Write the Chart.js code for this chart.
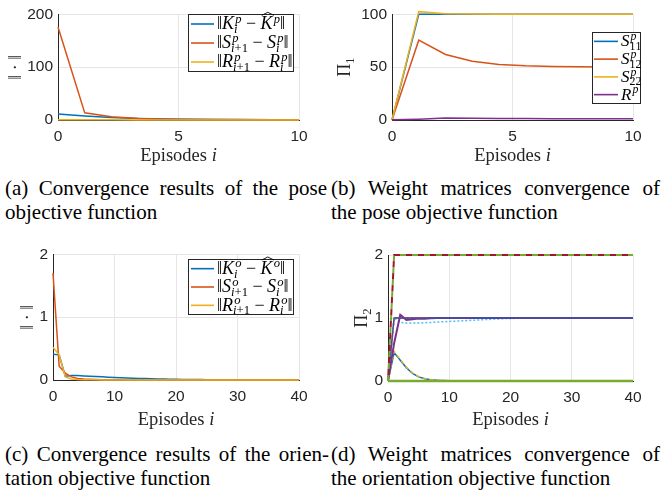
<!DOCTYPE html>
<html>
<head>
<meta charset="utf-8">
<script src="https://cdn.jsdelivr.net/npm/chart.js"></script>
<style>
  body { margin: 0; background: #fff; }
  #page { position: relative; width: 665px; height: 491px; overflow: hidden; }
  canvas { position: absolute; }
  .cap { position: absolute; font: 21px 'Liberation Serif', 'Times New Roman', serif; line-height: 24px; color: #000; }
  .cap .j { text-align: justify; text-align-last: justify; }
</style>
</head>
<body>
<div id="page">
  <canvas id="chartA" width="330" height="170" style="left:0;top:0"></canvas>
  <canvas id="chartB" width="335" height="170" style="left:330px;top:0"></canvas>
  <canvas id="chartC" width="330" height="190" style="left:0;top:240px"></canvas>
  <canvas id="chartD" width="335" height="190" style="left:330px;top:240px"></canvas>

  <div class="cap" style="left:5px;top:176px;width:322px"><div class="j">(a) Convergence results of the pose</div><div>objective function</div></div>
  <div class="cap" style="left:331px;top:176px;width:329px"><div class="j">(b) Weight matrices convergence of</div><div>the pose objective function</div></div>
  <div class="cap" style="left:5px;top:442px;width:324px"><div class="j">(c) Convergence results of the orien-</div><div>tation objective function</div></div>
  <div class="cap" style="left:331px;top:442px;width:329px"><div class="j">(d) Weight matrices convergence of</div><div>the orientation objective function</div></div>
</div>
<script>
// pose (10 episodes, sampled 0..10)
var poseEpisodes = [0, 1.11, 2.22, 3.33, 4.44, 5.56, 6.67, 7.78, 8.89, 10];
var poseErrK = [11.5, 7.5, 4.5, 2.8, 2.0, 1.5, 1.1, 0.9, 0.7, 0.6];
var poseErrS = [176, 13.5, 6.0, 2.8, 1.6, 1.1, 0.8, 0.6, 0.5, 0.4];
var poseErrR = [0.6, 0.4, 0.3, 0.2, 0.2, 0.1, 0.1, 0.1, 0.1, 0.1];

var poseS11 = [0, 100, 100, 100, 100, 100, 100, 100, 100, 100];
var poseS12 = [0, 75.5, 62, 55.5, 52.5, 51.3, 50.7, 50.4, 50.2, 50.1];
var poseS22 = [0, 102.5, 100.6, 100.2, 100.1, 100, 100, 100, 100, 100];
var poseR = [0.3, 0.8, 1.8, 1.6, 1.5, 1.4, 1.3, 1.2, 1.2, 1.1];

// orientation (episodes 0..40)
var oriEpisodes = [0,1,2,3,4,5,6,7,8,9,10,11,12,13,14,15,16,17,18,19,20,21,22,23,24,25,26,27,28,29,30,31,32,33,34,35,36,37,38,39,40];
var oriErrK = [0.41, 0.40, 0.06, 0.07, 0.07, 0.065, 0.06, 0.055, 0.05, 0.045, 0.04, 0.036, 0.032, 0.028, 0.025, 0.022, 0.019, 0.016, 0.014, 0.012, 0.010,
               0.009, 0.008, 0.007, 0.006, 0.005, 0.005, 0.004, 0.004, 0.003, 0.003, 0.003, 0.002, 0.002, 0.002, 0.002, 0.001, 0.001, 0.001, 0.001, 0.001];
var oriErrS = [1.70, 0.22, 0.11, 0.05, 0.025, 0.015, 0.01, 0.006, 0.004, 0.003, 0.002, 0.002, 0.001, 0.001, 0.001, 0.001, 0, 0, 0, 0, 0,
               0, 0, 0, 0, 0, 0, 0, 0, 0, 0, 0, 0, 0, 0, 0, 0, 0, 0, 0, 0];
var oriErrR = [0.52, 0.40, 0.05, 0.015, 0.008, 0.005, 0.003, 0.002, 0.001, 0.001, 0, 0, 0, 0, 0, 0, 0, 0, 0, 0, 0,
               0, 0, 0, 0, 0, 0, 0, 0, 0, 0, 0, 0, 0, 0, 0, 0, 0, 0, 0, 0];

var oriDecayA = [0, 0.45, 0.33, 0.21, 0.12, 0.065, 0.035, 0.02, 0.012, 0.007, 0.004, 0.002, 0.001, 0, 0, 0, 0, 0, 0, 0, 0,
                 0, 0, 0, 0, 0, 0, 0, 0, 0, 0, 0, 0, 0, 0, 0, 0, 0, 0, 0, 0];
var oriDecayB = [0, 0.47, 0.34, 0.22, 0.13, 0.07, 0.04, 0.022, 0.013, 0.008, 0.005, 0.003, 0.002, 0.001, 0, 0, 0, 0, 0, 0, 0,
                 0, 0, 0, 0, 0, 0, 0, 0, 0, 0, 0, 0, 0, 0, 0, 0, 0, 0, 0, 0];
var oriOneA = [0, 1, 1, 1, 1, 1, 1, 1, 1, 1, 1, 1, 1, 1, 1, 1, 1, 1, 1, 1, 1,
               1, 1, 1, 1, 1, 1, 1, 1, 1, 1, 1, 1, 1, 1, 1, 1, 1, 1, 1, 1];
var oriOneB = [0, 1.0, 0.93, 0.92, 0.92, 0.92, 0.925, 0.93, 0.935, 0.94, 0.945, 0.95, 0.955, 0.96, 0.965, 0.97, 0.975, 0.98, 0.985, 0.99, 0.993,
               0.995, 0.997, 0.998, 0.999, 1, 1, 1, 1, 1, 1, 1, 1, 1, 1, 1, 1, 1, 1, 1, 1];
var oriOneC = [0, 0.6, 1.05, 0.97, 0.98, 0.99, 0.99, 0.995, 1, 1, 1, 1, 1, 1, 1, 1, 1, 1, 1, 1, 1,
               1, 1, 1, 1, 1, 1, 1, 1, 1, 1, 1, 1, 1, 1, 1, 1, 1, 1, 1, 1];
var oriTwo = [0, 2, 2, 2, 2, 2, 2, 2, 2, 2, 2, 2, 2, 2, 2, 2, 2, 2, 2, 2, 2,
              2, 2, 2, 2, 2, 2, 2, 2, 2, 2, 2, 2, 2, 2, 2, 2, 2, 2, 2, 2];
var oriZero = [0, 0, 0, 0, 0, 0, 0, 0, 0, 0, 0, 0, 0, 0, 0, 0, 0, 0, 0, 0, 0,
               0, 0, 0, 0, 0, 0, 0, 0, 0, 0, 0, 0, 0, 0, 0, 0, 0, 0, 0, 0];

var SERIF = "'Liberation Serif', 'DejaVu Serif', serif";
var SANS = "'Liberation Sans', Arial, sans-serif";
var AXIS = '#262626';
var GRID = '#e6e6e6';
var C = { blue: '#0072BD', orange: '#D95319', yellow: '#EDB120', purple: '#7E2F8E',
          green: '#77AC30', light: '#4DBEEE', red: '#A2142F' };

// tiny tex-ish layout: $...$ is math, letters italic, ^{} _{} scripts, \hat{}
function layoutRich(ctx, str, size) {
  var pieces = [], hats = [];
  var x = 0, math = false, i = 0, baseEnd = 0, scriptW = 0;
  function put(txt, sz, x0, dy, m) {
    var w = 0;
    for (var ch of txt) {
      var f = ((m && /[A-Za-z]/.test(ch)) ? 'italic ' : '') + sz + 'px ' + SERIF;
      ctx.font = f;
      pieces.push({ ch: ch, f: f, x: x0 + w, dy: dy });
      w += ctx.measureText(ch).width;
    }
    return w;
  }
  function group() {
    var end = str.indexOf('}', i);
    var g = str.slice(i + 1, end);
    i = end + 1;
    return g;
  }
  while (i < str.length) {
    var c = str[i];
    if (c === '$') { math = !math; i++; continue; }
    if (math && str.startsWith('\\hat', i)) {
      i += 4;
      var g = group();
      var w = put(g, size, x, 0, true);
      hats.push({ x: x, w: w });
      x += w; baseEnd = x; scriptW = 0;
      continue;
    }
    if (math && (c === '^' || c === '_')) {
      i++;
      var s = str[i] === '{' ? group() : str[i++];
      var sup = c === '^';
      var kern = sup ? size * 0.06 : 0;
      var sw = put(s, size * 0.7, baseEnd + kern, sup ? -size * 0.38 : size * 0.2, true);
      scriptW = Math.max(scriptW, sw + kern);
      x = baseEnd + scriptW;
      continue;
    }
    x += put(c, size, x, 0, math);
    baseEnd = x; scriptW = 0; i++;
  }
  return { pieces: pieces, hats: hats, width: x, size: size };
}

function drawRich(ctx, lay, x, y, color) {
  ctx.save();
  ctx.fillStyle = color;
  ctx.textBaseline = 'alphabetic';
  ctx.textAlign = 'left';
  lay.pieces.forEach(function (p) { ctx.font = p.f; ctx.fillText(p.ch, x + p.x, y + p.dy); });
  ctx.strokeStyle = color;
  ctx.lineWidth = 0.9;
  lay.hats.forEach(function (h) {
    var s = lay.size;
    ctx.beginPath();
    ctx.moveTo(x + h.x + 0.1 * h.w, y - 0.78 * s);
    ctx.lineTo(x + h.x + 0.6 * h.w, y - 0.95 * s);
    ctx.lineTo(x + h.x + 1.1 * h.w, y - 0.78 * s);
    ctx.stroke();
  });
  ctx.restore();
}

// matlab style boxed legend inside the axes
Chart.register({
  id: 'mathLegend',
  afterDraw: function (chart, args, opts) {
    if (!opts.box) return;
    var ctx = chart.ctx, b = opts.box;
    var sets = chart.data.datasets;
    ctx.save();
    ctx.fillStyle = '#fff';
    ctx.fillRect(b.x, b.y, b.w, b.h);
    ctx.strokeStyle = AXIS;
    ctx.lineWidth = 1;
    ctx.strokeRect(b.x + 0.5, b.y + 0.5, b.w, b.h);
    var rowH = b.h / sets.length;
    sets.forEach(function (ds, k) {
      var cy = b.y + (k + 0.5) * rowH + 0.5;
      ctx.strokeStyle = ds.borderColor;
      ctx.lineWidth = 1.6;
      ctx.setLineDash([]);
      ctx.beginPath();
      ctx.moveTo(b.x + opts.sampleX, cy);
      ctx.lineTo(b.x + opts.sampleX + opts.sampleLen, cy);
      ctx.stroke();
      var lay = layoutRich(ctx, ds.label, opts.size);
      drawRich(ctx, lay, b.x + opts.sampleX + opts.sampleLen + 3, cy + 0.3 * opts.size, '#000');
    });
    ctx.restore();
  }
});

// axis titles with italic math bits
Chart.register({
  id: 'richTitles',
  afterDraw: function (chart, args, opts) {
    var ctx = chart.ctx, a = chart.chartArea;
    if (opts.x) {
      var lx = layoutRich(ctx, opts.x.text, opts.x.size);
      drawRich(ctx, lx, (a.left + a.right) / 2 - lx.width / 2, opts.x.y + 0.3 * opts.x.size, AXIS);
    }
    if (opts.y) {
      var ly = layoutRich(ctx, opts.y.text, opts.y.size);
      ctx.save();
      ctx.translate(opts.y.x + 0.3 * opts.y.size, (a.top + a.bottom) / 2);
      ctx.rotate(-Math.PI / 2);
      drawRich(ctx, ly, -ly.width / 2, 0, AXIS);
      ctx.restore();
    }
  }
});

function series(label, xs, ys, color, extra) {
  return Object.assign({
    label: label,
    data: ys.map(function (v, k) { return { x: xs[k], y: v }; }),
    borderColor: color,
    backgroundColor: color,
    borderWidth: 1.5,
    pointRadius: 0,
    tension: 0,
    fill: false,
    clip: false
  }, extra || {});
}

// box = target plot area inside the canvas
function makeChart(id, datasets, box, xr, yr, plugins) {
  var cv = document.getElementById(id);
  var n = datasets.length;
  datasets.forEach(function (ds, k) { ds.order = n - k; }); // later on top, like matlab
  var tickFont = { family: SANS, size: 15.5 };
  return new Chart(cv.getContext('2d'), {
    type: 'line',
    data: { datasets: datasets },
    options: {
      responsive: false,
      animation: false,
      events: [],
      layout: { padding: { left: 0, top: box.top, right: cv.width - box.right, bottom: 0 } },
      plugins: Object.assign({ legend: { display: false }, tooltip: { enabled: false } }, plugins),
      scales: {
        x: {
          type: 'linear', min: xr[0], max: xr[1],
          ticks: { stepSize: xr[2], color: AXIS, font: tickFont, padding: 7, maxRotation: 0 },
          grid: { color: GRID, drawTicks: false },
          border: { color: AXIS },
          afterFit: function (s) { s.height = cv.height - box.bottom; }
        },
        y: {
          min: yr[0], max: yr[1],
          ticks: { stepSize: yr[2], color: AXIS, font: tickFont, padding: 5 },
          grid: { color: GRID, drawTicks: false },
          border: { color: AXIS },
          afterFit: function (s) { s.width = box.left; }
        }
      }
    }
  });
}

makeChart('chartA', [
  series('$‖K_{i}^{p} − \\hat{K}^{p}‖$', poseEpisodes, poseErrK, C.blue),
  series('$‖S_{i+1}^{p} − S_{i}^{p}‖$', poseEpisodes, poseErrS, C.orange),
  series('$‖R_{i+1}^{p} − R_{i}^{p}‖$', poseEpisodes, poseErrR, C.yellow)
], { left: 58, right: 299, top: 9, bottom: 120 }, [0, 10, 5], [0, 200, 100], {
  mathLegend: { box: { x: 188, y: 14, w: 105, h: 57 }, sampleX: 3, sampleLen: 23, size: 18 },
  richTitles: { x: { text: 'Episodes $i$', size: 18.5, y: 155 }, y: { text: '‖ · ‖', size: 18, x: 16 } }
});

makeChart('chartB', [
  series('$S_{11}^{p}$', poseEpisodes, poseS11, C.blue),
  series('$S_{12}^{p}$', poseEpisodes, poseS12, C.orange),
  series('$S_{22}^{p}$', poseEpisodes, poseS22, C.yellow),
  series('$R^{p}$', poseEpisodes, poseR, C.purple)
], { left: 62, right: 303, top: 10, bottom: 120 }, [0, 10, 5], [0, 100, 50], {
  mathLegend: { box: { x: 262, y: 32, w: 48, h: 71 }, sampleX: 2, sampleLen: 24, size: 17 },
  richTitles: { x: { text: 'Episodes $i$', size: 18.5, y: 155 }, y: { text: '$Π_{1}$', size: 18, x: 15 } }
});

makeChart('chartC', [
  series('$‖K_{i}^{o} − \\hat{K}^{o}‖$', oriEpisodes, oriErrK, C.blue),
  series('$‖S_{i+1}^{o} − S_{i}^{o}‖$', oriEpisodes, oriErrS, C.orange),
  series('$‖R_{i+1}^{o} − R_{i}^{o}‖$', oriEpisodes, oriErrR, C.yellow)
], { left: 53, right: 299, top: 14, bottom: 140 }, [0, 40, 10], [0, 2, 1], {
  mathLegend: { box: { x: 188, y: 19, w: 105, h: 55 }, sampleX: 3, sampleLen: 23, size: 18 },
  richTitles: { x: { text: 'Episodes $i$', size: 18.5, y: 179 }, y: { text: '‖ · ‖', size: 18, x: 28 } }
});

makeChart('chartD', [
  series('decay a', oriEpisodes, oriDecayA, C.blue),
  series('decay b', oriEpisodes, oriDecayB, C.yellow, { borderDash: [4, 3] }),
  series('one a', oriEpisodes, oriOneA, C.red),
  series('one b', oriEpisodes, oriOneB, C.light, { borderDash: [2, 2] }),
  series('one c', oriEpisodes, oriOneC, C.purple, { borderWidth: 2 }),
  series('one d', oriEpisodes, oriOneA, C.blue, { borderDash: [2, 2] }),
  series('two a', oriEpisodes, oriTwo, C.green, { borderWidth: 2, borderDash: [6, 6] }),
  series('two b', oriEpisodes, oriTwo, C.red, { borderWidth: 2, borderDash: [6, 6], borderDashOffset: 6 }),
  series('zero', oriEpisodes, oriZero, C.green, { borderWidth: 2.5 })
], { left: 58, right: 303, top: 15, bottom: 141 }, [0, 40, 10], [0, 2, 1], {
  richTitles: { x: { text: 'Episodes $i$', size: 18.5, y: 179 }, y: { text: '$Π_{2}$', size: 18, x: 32 } }
});
</script>
</body>
</html>
